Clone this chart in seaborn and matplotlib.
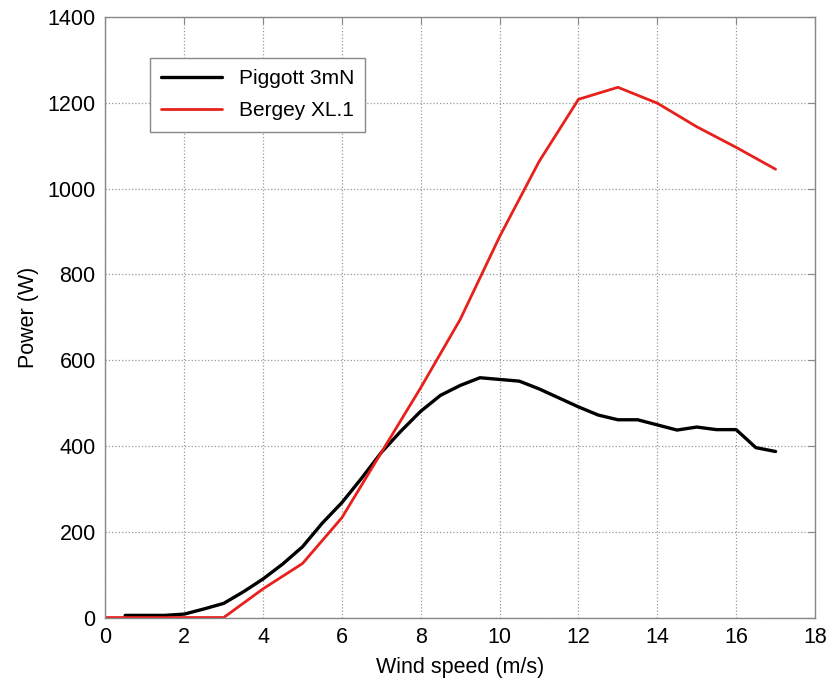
import numpy as np
import pandas as pd
import matplotlib
matplotlib.use('Agg')
import matplotlib.pyplot as plt
import seaborn as sns

# Piggott 3mN power curve
piggott_speed = [0.5, 1, 1.5, 2, 2.5, 3, 3.5, 4, 4.5, 5, 5.5, 6, 6.5, 7, 7.5, 8, 8.5,
                 9, 9.5, 10, 10.5, 11, 11.5, 12, 12.5, 13, 13.5, 14, 14.5, 15, 15.5,
                 16, 16.5, 17]
piggott_power = [5, 5, 5, 8, 20, 33, 60, 90, 125, 165, 220, 268, 325, 385, 435, 481, 518,
                 541, 559, 555, 551, 533, 512, 491, 472, 461, 461, 449, 437, 444, 438,
                 438, 396, 387]

# Bergey XL.1 power curve
bergey_speed = [0, 1, 2, 3, 4, 5, 6, 7, 8, 9, 10, 11, 12, 13, 14, 15, 16, 17]
bergey_power = [0, 0, 0, 0, 67, 126, 233, 385, 536, 695, 888, 1063, 1208, 1236, 1199,
                1144, 1096, 1045]

x_ticks = list(range(0, 19, 2))
y_ticks = list(range(0, 1401, 200))

sns.set_style('white')
plt.rcParams['font.family'] = ['Liberation Sans', 'DejaVu Sans']
plt.rcParams['text.color'] = 'black'
plt.rcParams['axes.labelcolor'] = 'black'
plt.rcParams['xtick.color'] = 'black'
plt.rcParams['ytick.color'] = 'black'

fig = plt.figure(figsize=(8.39, 6.78), dpi=100)
ax = fig.add_axes([0.1257, 0.0892, 0.8457, 0.8858])

piggott_df = pd.DataFrame({'speed': piggott_speed, 'power': piggott_power})
bergey_df = pd.DataFrame({'speed': bergey_speed, 'power': bergey_power})
sns.lineplot(data=piggott_df, x='speed', y='power', color='black', linewidth=2.4,
             label='Piggott 3mN', ax=ax)
sns.lineplot(data=bergey_df, x='speed', y='power', color='#e8201c', linewidth=2.0,
             label='Bergey XL.1', ax=ax)

ax.set_xlim(0, 18)
ax.set_ylim(0, 1400)
ax.set_xticks(x_ticks)
ax.set_yticks(y_ticks)
ax.grid(True, linestyle=':', color='#999999', linewidth=0.9)
ax.tick_params(direction='in', top=True, right=True, length=5, labelsize=15.5, pad=7)
ax.tick_params(colors='#888888', labelcolor='black')
for s in ax.spines.values():
    s.set_color('#888888')
    s.set_linewidth(1.0)

ax.set_xlabel('Wind speed (m/s)', fontsize=15.5, labelpad=6)
ax.set_ylabel('Power (W)', fontsize=15.5, labelpad=6)

leg = ax.legend(loc='upper left', bbox_to_anchor=(0.0628, 0.9317), borderaxespad=0,
                fontsize=15, frameon=True, fancybox=False, edgecolor='#888888',
                framealpha=1, handlelength=2.9, borderpad=0.55, labelspacing=0.62)
leg.get_frame().set_linewidth(1.0)

plt.savefig('out.png', dpi=100)
